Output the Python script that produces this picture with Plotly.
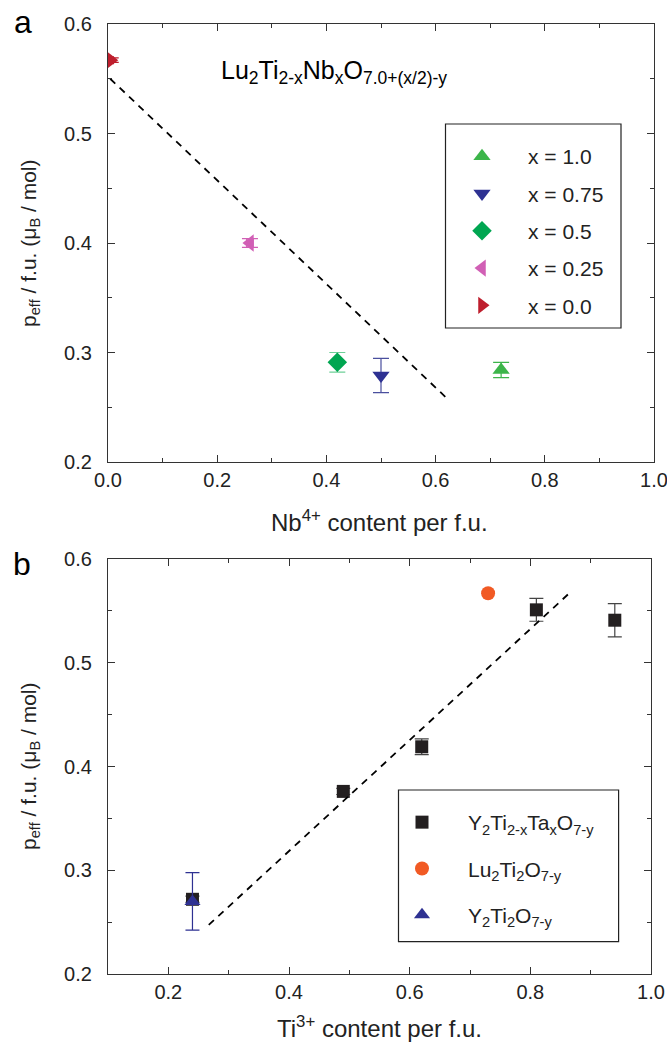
import plotly.graph_objects as go

# ---- panel a: Lu2Ti(2-x)NbxO(7+x/2-y) ----
nb_labels = ["x = 1.0", "x = 0.75", "x = 0.5", "x = 0.25", "x = 0.0"]
nb_content = [0.72, 0.50, 0.42, 0.26, 0.005]
nb_peff = [0.284, 0.279, 0.291, 0.400, 0.567]
nb_err = [0.007, 0.0157, 0.009, 0.004, 0.002]
nb_xerr = [0.0, 0.0, 0.0, 0.006, 0.005]
nb_symbols = ["triangle-up", "triangle-down", "diamond", "triangle-left", "triangle-right"]
nb_colors = ["#3cb54a", "#2e3192", "#00a651", "#d15fb5", "#be1e2d"]
nb_errcolors = ["#3cb54a", "#4a4f9e", "#6fcf98", "#d15fb5", "#be1e2d"]
fit_a_x = [0.004, 0.624]
fit_a_y = [0.550, 0.2566]

# ---- panel b: Ti3+ content ----
ta_content = [0.24, 0.49, 0.62, 0.81, 0.94]
ta_peff = [0.272, 0.376, 0.419, 0.551, 0.541]
ta_err = [0.003, 0.003, 0.0076, 0.011, 0.016]
lu_content = [0.73]
lu_peff = [0.567]
lu_err = [0.002]
y2_content = [0.24]
y2_peff = [0.270]
y2_err = [0.0277]
fit_b_x = [0.267, 0.869]
fit_b_y = [0.2473, 0.5694]

W, H = 667, 1044
FONT = "Liberation Sans, Arial, sans-serif"

def px(x):
    return x / W

def py(y):
    return 1 - y / H

fig = go.Figure()

# panel a data
for lab, xv, yv, e, ex, sym, col, ecol in zip(nb_labels, nb_content, nb_peff, nb_err,
                                             nb_xerr, nb_symbols, nb_colors, nb_errcolors):
    fig.add_trace(go.Scatter(
        x=[xv], y=[yv], mode="markers", name=lab, legend="legend", legendgroup=lab,
        marker=dict(symbol=sym, size=15, color=col, line=dict(width=0)),
        error_y=dict(type="data", array=[e], color=ecol, thickness=1.2, width=8),
        error_x=dict(type="data", array=[ex], color=col, thickness=1.2, width=4, visible=ex > 0),
        cliponaxis=False, xaxis="x", yaxis="y"))

fig.add_trace(go.Scatter(
    x=fit_a_x, y=fit_a_y, mode="lines", showlegend=False,
    line=dict(color="black", width=1.8, dash="7px,6px"), xaxis="x", yaxis="y"))

# panel b data
fig.add_trace(go.Scatter(
    x=ta_content, y=ta_peff, mode="markers",
    name="Y<sub>2</sub>Ti<sub>2-x</sub>Ta<sub>x</sub>O<sub>7-y</sub>",
    legend="legend2", legendgroup="ta",
    marker=dict(symbol="square", size=13, color="#231f20"),
    error_y=dict(type="data", array=ta_err, color="#444444", thickness=1.2, width=7),
    xaxis="x2", yaxis="y2"))
fig.add_trace(go.Scatter(
    x=lu_content, y=lu_peff, mode="markers",
    name="Lu<sub>2</sub>Ti<sub>2</sub>O<sub>7-y</sub>",
    legend="legend2", legendgroup="lu",
    marker=dict(symbol="circle", size=14, color="#f15a24"),
    error_y=dict(type="data", array=lu_err, color="#f15a24", thickness=1.2, width=5),
    xaxis="x2", yaxis="y2"))
fig.add_trace(go.Scatter(
    x=y2_content, y=y2_peff, mode="markers",
    name="Y<sub>2</sub>Ti<sub>2</sub>O<sub>7-y</sub>",
    legend="legend2", legendgroup="y2",
    marker=dict(symbol="triangle-up", size=14, color="#2e3192"),
    error_y=dict(type="data", array=y2_err, color="#2e3192", thickness=1.2, width=7),
    xaxis="x2", yaxis="y2"))
fig.add_trace(go.Scatter(
    x=fit_b_x, y=fit_b_y, mode="lines", showlegend=False,
    line=dict(color="black", width=1.8, dash="7px,6px"), xaxis="x2", yaxis="y2"))

axis_common = dict(
    showline=True, linecolor="#333333", linewidth=1.2, mirror="allticks",
    ticks="inside", ticklen=7, tickwidth=1.2, tickcolor="#333333",
    showgrid=False, zeroline=False, automargin=False, ticklabeloverflow="allow",
    tickfont=dict(family=FONT, size=20, color="#222222"),
    minor=dict(ticks="inside", ticklen=4, tickwidth=1.2, tickcolor="#333333", showgrid=False),
)

fig.update_layout(
    width=W, height=H, margin=dict(l=0, r=0, t=0, b=0, autoexpand=False),
    paper_bgcolor="white", plot_bgcolor="white",
    font=dict(family=FONT, size=20, color="#222222"),
    xaxis=dict(axis_common, domain=[px(108), px(654)], range=[0, 1.0],
               tickvals=[0, 0.2, 0.4, 0.6, 0.8, 1.0], ticktext=["0.0", "0.2", "0.4", "0.6", "0.8", "1.0"],
               minor=dict(axis_common["minor"], dtick=0.1), anchor="y"),
    yaxis=dict(axis_common, domain=[py(462), py(24)], range=[0.2, 0.6], ticklabelstandoff=11,
               dtick=0.1, tickformat=".1f", minor=dict(axis_common["minor"], dtick=0.05), anchor="x"),
    xaxis2=dict(axis_common, domain=[px(108), px(651)], range=[0.1, 1.0],
                tickvals=[0.2, 0.4, 0.6, 0.8, 1.0], tickformat=".1f",
                minor=dict(axis_common["minor"], dtick=0.1), anchor="y2"),
    yaxis2=dict(axis_common, domain=[py(974), py(559)], range=[0.2, 0.6], ticklabelstandoff=11,
                dtick=0.1, tickformat=".1f", minor=dict(axis_common["minor"], dtick=0.05), anchor="x2"),
    legend=dict(x=px(436), y=py(136), xanchor="left", yanchor="top",
                bgcolor="rgba(0,0,0,0)", borderwidth=0, font=dict(size=21),
                traceorder="grouped", tracegroupgap=7, itemwidth=82),
    legend2=dict(x=px(376), y=py(802), xanchor="left", yanchor="top",
                 bgcolor="rgba(0,0,0,0)", borderwidth=0, font=dict(size=21),
                 traceorder="grouped", tracegroupgap=16, itemwidth=82),
    showlegend=True,
)

# legend frames
fig.add_shape(type="rect", xref="paper", yref="paper",
              x0=px(445.5), x1=px(621), y0=py(328), y1=py(124),
              line=dict(color="#222222", width=1.2))
fig.add_shape(type="rect", xref="paper", yref="paper",
              x0=px(398.5), x1=px(618.6), y0=py(941.7), y1=py(790),
              line=dict(color="#222222", width=1.2))

ann = []
ann.append(dict(text="a", x=px(12), y=py(22), xanchor="left", yanchor="middle", font=dict(size=32, color="black")))
ann.append(dict(text="b", x=px(11), y=py(564), xanchor="left", yanchor="middle", font=dict(size=32, color="black")))
ann.append(dict(text="Lu<sub>2</sub>Ti<sub>2-x</sub>Nb<sub>x</sub>O<sub>7.0+(x/2)-y</sub>",
                x=px(219), y=py(72), xanchor="left", yanchor="middle", font=dict(size=25, color="black")))
ytitle = "p<sub>eff</sub> / f.u. (\u03bc<sub>B</sub> / mol)"
ann.append(dict(text=ytitle, x=px(30), y=py(243), textangle=-90, xanchor="center", yanchor="middle",
                font=dict(size=21)))
ann.append(dict(text=ytitle, x=px(30), y=py(766), textangle=-90, xanchor="center", yanchor="middle",
                font=dict(size=21)))
ann.append(dict(text="Nb<sup>4+</sup> content per f.u.", x=px(379), y=py(521), xanchor="center", yanchor="middle",
                font=dict(size=24)))
ann.append(dict(text="Ti<sup>3+</sup> content per f.u.", x=px(379), y=py(1027), xanchor="center", yanchor="middle",
                font=dict(size=24)))
for a in ann:
    a.update(xref="paper", yref="paper", showarrow=False)
fig.update_layout(annotations=ann)

fig.write_html("out.html")
